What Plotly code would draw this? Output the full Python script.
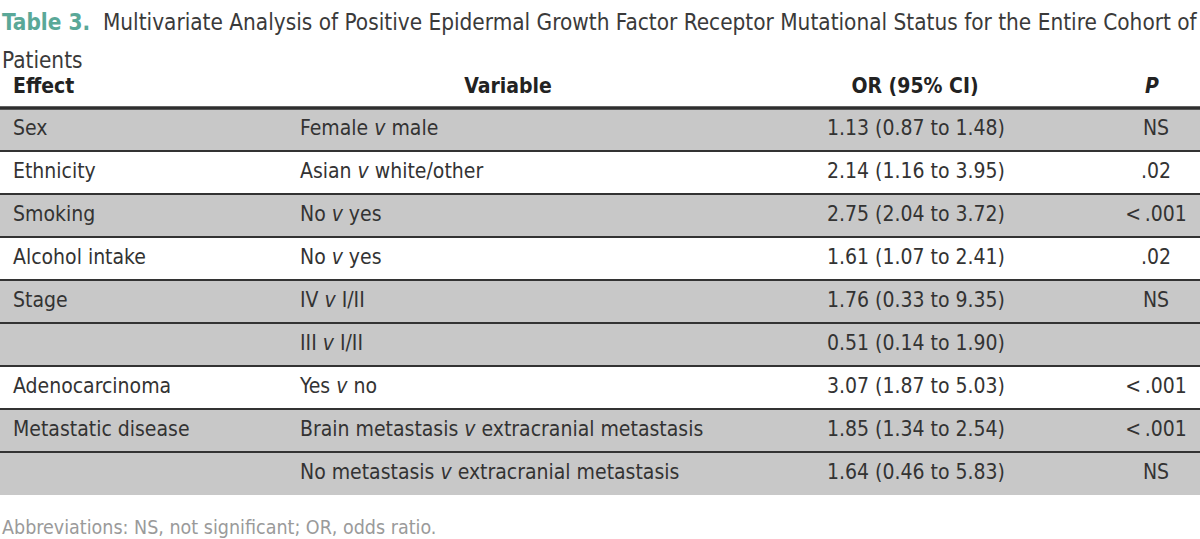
import plotly.graph_objects as go

# ---- data ----
effects = ["Sex", "Ethnicity", "Smoking", "Alcohol intake", "Stage", "",
           "Adenocarcinoma", "Metastatic disease", ""]
variables = ["Female <i>v</i> male", "Asian <i>v</i> white/other", "No <i>v</i> yes",
             "No <i>v</i> yes", "IV <i>v</i> I/II", "III <i>v</i> I/II", "Yes <i>v</i> no",
             "Brain metastasis <i>v</i> extracranial metastasis",
             "No metastasis <i>v</i> extracranial metastasis"]
odds_ratios = ["1.13 (0.87 to 1.48)", "2.14 (1.16 to 3.95)", "2.75 (2.04 to 3.72)",
               "1.61 (1.07 to 2.41)", "1.76 (0.33 to 9.35)", "0.51 (0.14 to 1.90)",
               "3.07 (1.87 to 5.03)", "1.85 (1.34 to 2.54)", "1.64 (0.46 to 5.83)"]
p_values = ["NS", ".02", "&lt;&#8201;.001", ".02", "NS", "", "&lt;&#8201;.001",
            "&lt;&#8201;.001", "NS"]
shaded = [True, False, True, False, True, True, False, True, True]
headers = ["Effect", "Variable", "OR (95% CI)", "<i>P</i>"]
title_label = "Table 3."
title_line1 = ("Multivariate Analysis of Positive Epidermal Growth Factor Receptor "
               "Mutational Status for the Entire Cohort of")
title_line2 = "Patients"
footnote = "Abbreviations: NS, not significant; OR, odds ratio."

# ---- styling ----
FONT = "DejaVu Sans Condensed, Liberation Sans Narrow, Arial Narrow, sans-serif"
TEXT = "#333333"
GRAY = "#c8c8c8"
W = 1200
H = 539
n = len(effects)
rows = list(range(n))
top_px, rh = 129.5, 43.0

fig = go.Figure()

# row backgrounds
fig.add_trace(go.Bar(
    orientation="h", y=rows, x=[W] * n, base=0, width=1,
    marker=dict(color=[GRAY if s else "#ffffff" for s in shaded], line=dict(width=0)),
    hoverinfo="skip", showlegend=False))

# row separators
sx, sy = [], []
for b in range(n - 1):
    sx += [0, W, None]
    sy += [b + 0.5, b + 0.5, None]
fig.add_trace(go.Scatter(x=sx, y=sy, mode="lines",
                         line=dict(color="#333333", width=2.2),
                         hoverinfo="skip", showlegend=False))
# header rule
fig.add_trace(go.Scatter(x=[0, W], y=[-0.5, -0.5], mode="lines",
                         line=dict(color="#2e2e2e", width=3.5),
                         hoverinfo="skip", showlegend=False))

body_font = dict(family=FONT, size=21, color=TEXT)
cols = [(effects, 13, "middle right"), (variables, 300, "middle right"),
        (odds_ratios, 916, "middle center"), (p_values, 1156, "middle center")]
for vals, xpos, pos in cols:
    fig.add_trace(go.Scatter(x=[xpos] * n, y=rows, mode="text", text=vals,
                             textposition=pos, textfont=body_font, cliponaxis=False,
                             hoverinfo="skip", showlegend=False))

# header
hdr_x = [13, 508, 915, 1152]
hdr_pos = ["middle right", "middle center", "middle center", "middle center"]
for h, xpos, pos in zip(headers, hdr_x, hdr_pos):
    fig.add_trace(go.Scatter(x=[xpos], y=[(88 - top_px) / rh], mode="text",
                             text=[f"<b>{h}</b>"], textposition=pos, cliponaxis=False,
                             textfont=dict(family=FONT, size=21, color="#222222"),
                             hoverinfo="skip", showlegend=False))

# title
fig.add_annotation(
    x=0, y=(22 - top_px) / rh, xref="paper", yref="y", xanchor="left", yanchor="middle",
    align="left", showarrow=False,
    text=f"<b><span style='color:#5aa898'>{title_label}</span></b>  {title_line1}",
    font=dict(family=FONT, size=22.4, color="#3a3a3a"))
fig.add_annotation(
    x=0, y=(60 - top_px) / rh, xref="paper", yref="y", xanchor="left", yanchor="middle",
    align="left", showarrow=False, text=title_line2,
    font=dict(family=FONT, size=22.4, color="#3a3a3a"))

# footnote
fig.add_annotation(
    x=0, y=(527 - top_px) / rh, xref="paper", yref="y", xanchor="left", yanchor="middle",
    showarrow=False, text=footnote,
    font=dict(family=FONT, size=19.5, color="#9a9a9a"))

fig.update_layout(
    width=W, height=H, margin=dict(l=0, r=0, t=0, b=0, pad=0, autoexpand=False),
    paper_bgcolor="white", plot_bgcolor="white",
    xaxis=dict(range=[0, W], visible=False, fixedrange=True),
    yaxis=dict(range=[(H - top_px) / rh, -top_px / rh], visible=False, fixedrange=True),
    bargap=0,
)

fig.write_html("out.html", config={"displayModeBar": False},
               post_script="document.body.style.margin='0';document.body.style.overflow='hidden';")
